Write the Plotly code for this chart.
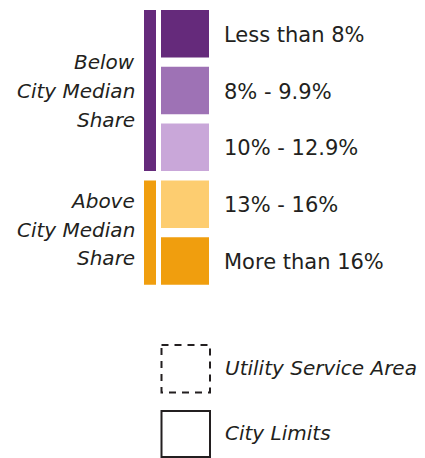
import plotly.graph_objects as go

# ---- data ----
categories = ["Less than 8%", "8% - 9.9%", "10% - 12.9%", "13% - 16%", "More than 16%"]
category_colors = ["#652a7b", "#9e72b5", "#c9a7d9", "#fdcd70", "#f09e0e"]
group_labels = ["Below", "Above"]
group_members = [[0, 1, 2], [3, 4]]
group_colors = ["#652a7b", "#f09e0e"]
boundary_labels = ["Utility Service Area", "City Limits"]
boundary_dash = ["7px,6px", "solid"]

W, H = 425, 458
FONT = "DejaVu Sans"
TXT = "#231f20"

# layout geometry
sw_x0, sw_x1 = 161, 209
sw_top, sw_h, sw_gap = 10, 47.5, 9.3
bar_x0, bar_x1 = 144, 156

fig = go.Figure()
fig.add_trace(go.Scatter(x=[0, W], y=[0, H], mode="markers",
                         marker=dict(opacity=0), hoverinfo="skip", showlegend=False))

shapes = []
annotations = []

def sw_y(i):
    y0 = sw_top + i * (sw_h + sw_gap)
    return y0, y0 + sw_h

for i, (cat, col) in enumerate(zip(categories, category_colors)):
    y0, y1 = sw_y(i)
    shapes.append(dict(type="rect", xref="x", yref="y", x0=sw_x0, x1=sw_x1, y0=y0, y1=y1,
                       fillcolor=col, line=dict(width=0), layer="above"))
    annotations.append(dict(x=222, y=(y0 + y1) / 2 + 1, xref="x", yref="y", text=cat,
                            showarrow=False, xanchor="left", yanchor="middle",
                            font=dict(family=FONT, size=21, color=TXT)))

for g, (lab, members, col) in enumerate(zip(group_labels, group_members, group_colors)):
    y0 = sw_y(members[0])[0]
    y1 = sw_y(members[-1])[1]
    shapes.append(dict(type="rect", xref="x", yref="y", x0=bar_x0, x1=bar_x1, y0=y0, y1=y1,
                       fillcolor=col, line=dict(width=0), layer="above"))
    lines = [lab, "City Median", "Share"]
    cy = [62, 91, 120] if g == 0 else [201, 229.5, 258]
    for t, yy in zip(lines, cy):
        annotations.append(dict(x=137, y=yy, xref="x", yref="y", text="<i>%s</i>" % t,
                                showarrow=False, xanchor="right", yanchor="middle",
                                font=dict(family=FONT, size=20, color=TXT)))

box_y = [(345, 392.5), (411, 457)]
for lab, dash, (y0, y1) in zip(boundary_labels, boundary_dash, box_y):
    shapes.append(dict(type="rect", xref="x", yref="y", x0=161.5, x1=210, y0=y0, y1=y1,
                       fillcolor="rgba(0,0,0,0)", line=dict(color="#231f20", width=2, dash=dash)))
    annotations.append(dict(x=223, y=(y0 + y1) / 2 - 1, xref="x", yref="y", text="<i>%s</i>" % lab,
                            showarrow=False, xanchor="left", yanchor="middle",
                            font=dict(family=FONT, size=20, color=TXT)))

fig.update_layout(
    width=W, height=H, margin=dict(l=0, r=0, t=0, b=0),
    paper_bgcolor="white", plot_bgcolor="white",
    xaxis=dict(range=[0, W], visible=False, fixedrange=True),
    yaxis=dict(range=[H, 0], visible=False, fixedrange=True),
    shapes=shapes, annotations=annotations, showlegend=False,
)

fig.write_html("out.html", config={"displayModeBar": False},
               post_script="document.body.style.margin='0';document.body.style.overflow='hidden';")
